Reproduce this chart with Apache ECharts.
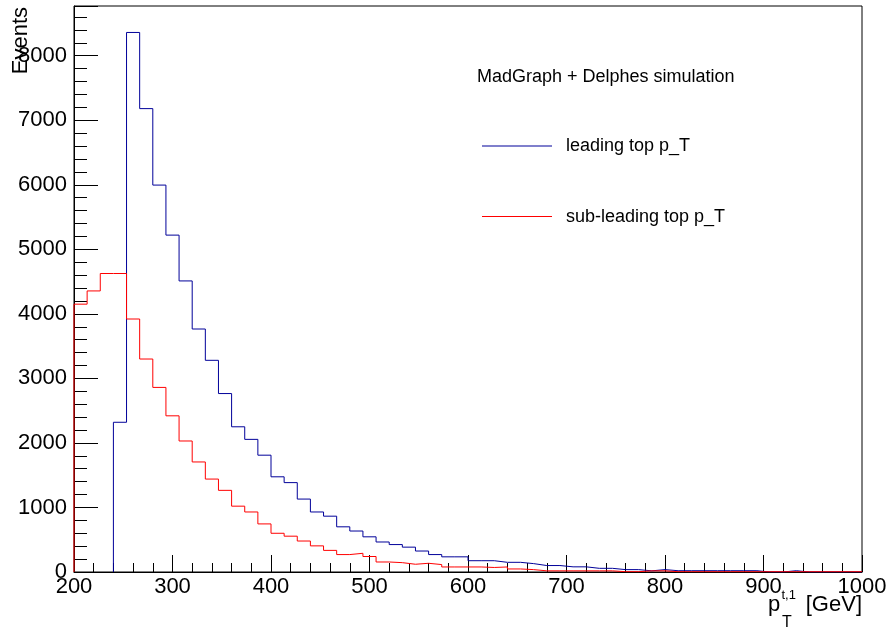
<!DOCTYPE html>
<html>
<head>
<meta charset="utf-8">
<title>Top pT spectra</title>
<script src="https://cdn.jsdelivr.net/npm/echarts@6/dist/echarts.min.js"></script>
<style>
  html, body { margin: 0; padding: 0; background: #fff; }
  #chart { width: 892px; height: 634px; }
</style>
</head>
<body>
<div id="chart"></div>
<script>
// Histogram binning: 60 equal bins between 200 and 1000 GeV
const BIN_LOW = 200;
const BIN_HIGH = 1000;

// Bin contents (events per bin), leading top pT
const leadingPt = [
  0, 0, 0, 2320, 8360, 7180, 5995, 5220, 4510, 3765,
  3280, 2765, 2250, 2055, 1810, 1475, 1385, 1130, 930, 865,
  700, 635, 545, 465, 425, 385, 325, 270, 235, 235,
  175, 175, 150, 150, 130, 100, 100, 80, 80, 57,
  57, 37, 37, 18, 37, 20, 20, 20, 20, 20,
  20, 20, 0, 0, 20, 0, 0, 0, 0, 0
];

// Bin contents (events per bin), sub-leading top pT
const subleadingPt = [
  4150, 4355, 4625, 4625, 3920, 3300, 2860, 2420, 2030, 1705,
  1440, 1265, 1020, 930, 745, 600, 555, 480, 405, 335,
  270, 290, 240, 155, 145, 120, 135, 115, 78, 78,
  78, 70, 78, 47, 37, 18, 18, 18, 18, 18,
  18, 5, 5, 18, 18, 5, 4, 4, 4, 4,
  4, 4, 4, 4, 4, 4, 4, 4, 4, 4
];

const seriesNames = ['leading top p_T', 'sub-leading top p_T'];
const headerText = 'MadGraph + Delphes simulation';
const yAxisTitle = 'Events';
const yMax = 8770;

// Turn bin contents into step-outline points (left edge of each bin,
// plus the upper edge of the last bin); leading empty bins are skipped.
function histOutline(counts) {
  const w = (BIN_HIGH - BIN_LOW) / counts.length;
  const first = Math.max(0, counts.findIndex(v => v > 0));
  const pts = [[BIN_LOW + first * w, 0]];
  for (let k = first; k < counts.length; k++) {
    pts.push([BIN_LOW + k * w, counts[k]]);
  }
  pts.push([BIN_HIGH, counts[counts.length - 1]]);
  return pts;
}

const FONT = '"Liberation Sans", Arial, Helvetica, sans-serif';
// thin horizontal stroke used as the legend key
const LINE_ICON = 'path://M0,0H70V1H0Z';

const chart = echarts.init(document.getElementById('chart'), null, { renderer: 'canvas' });

const option = {
  animation: false,
  backgroundColor: '#ffffff',
  textStyle: { fontFamily: FONT, color: '#000' },
  title: {
    text: headerText,
    left: 477,
    top: 68,
    padding: 0,
    textStyle: { fontFamily: FONT, fontSize: 18, fontWeight: 'normal', color: '#000' }
  },
  legend: {
    orient: 'vertical',
    left: 482,
    top: 137,
    itemWidth: 70,
    itemHeight: 14,
    itemGap: 52.6,
    padding: 0,
    selectedMode: false,
    icon: LINE_ICON,
    data: seriesNames,
    textStyle: { fontFamily: FONT, fontSize: 18, color: '#000', padding: [0, 0, 0, 9] }
  },
  grid: {
    left: 74, right: 30, top: 6, bottom: 62,
    show: true,
    borderColor: '#000',
    borderWidth: 1,
    backgroundColor: 'transparent',
    containLabel: false,
    outerBoundsMode: 'none'
  },
  xAxis: {
    type: 'value',
    min: BIN_LOW,
    max: BIN_HIGH,
    interval: 100,
    axisLine: { show: true, lineStyle: { color: '#000', width: 1 } },
    axisTick: { show: true, inside: true, length: 17, lineStyle: { color: '#000' } },
    minorTick: { show: true, splitNumber: 5, length: 9, lineStyle: { color: '#000' } },
    splitLine: { show: false },
    minorSplitLine: { show: false },
    axisLabel: { fontFamily: FONT, fontSize: 22, color: '#000', margin: 4, formatter: v => String(v) }
  },
  yAxis: [
    {
      type: 'value',
      min: 0,
      max: yMax,
      interval: 1000,
      position: 'left',
      axisLine: { show: true, lineStyle: { color: '#000', width: 1 } },
      axisTick: { show: true, inside: true, length: 24, lineStyle: { color: '#000' } },
      splitLine: { show: false },
      axisLabel: {
        fontFamily: FONT, fontSize: 22, color: '#000', margin: 7,
        formatter: v => (v % 1000 === 0 ? String(v) : '')
      }
    },
    {
      type: 'value',
      min: 0,
      max: yMax,
      interval: 200,
      position: 'left',
      axisLine: { show: false },
      axisTick: { show: true, inside: true, length: 13, lineStyle: { color: '#000' } },
      splitLine: { show: false },
      axisLabel: { show: false }
    }
  ],
  series: [
    {
      name: seriesNames[0],
      type: 'line',
      step: 'end',
      symbol: 'none',
      yAxisIndex: 0,
      color: '#000099',
      lineStyle: { color: '#000099', width: 1 },
      data: histOutline(leadingPt)
    },
    {
      name: seriesNames[1],
      type: 'line',
      step: 'end',
      symbol: 'none',
      yAxisIndex: 0,
      color: '#ff0000',
      lineStyle: { color: '#ff0000', width: 1 },
      data: histOutline(subleadingPt)
    }
  ],
  graphic: [
    {
      type: 'text',
      x: 21,
      y: 7,
      rotation: Math.PI / 2,
      style: { text: yAxisTitle, font: '22px ' + FONT, fill: '#000', align: 'right', verticalAlign: 'middle' }
    },
    {
      type: 'text', x: 768, y: 605,
      style: { text: 'p', font: '22px ' + FONT, fill: '#000', align: 'left', verticalAlign: 'middle' }
    },
    {
      type: 'text', x: 781.5, y: 595,
      style: { text: 't,1', font: '13px ' + FONT, fill: '#000', align: 'left', verticalAlign: 'middle' }
    },
    {
      type: 'text', x: 782, y: 623,
      style: { text: 'T', font: '16px ' + FONT, fill: '#000', align: 'left', verticalAlign: 'middle' }
    },
    {
      type: 'text', x: 862, y: 605,
      style: { text: '[GeV]', font: '22px ' + FONT, fill: '#000', align: 'right', verticalAlign: 'middle' }
    }
  ]
};

chart.setOption(option);
</script>
</body>
</html>
